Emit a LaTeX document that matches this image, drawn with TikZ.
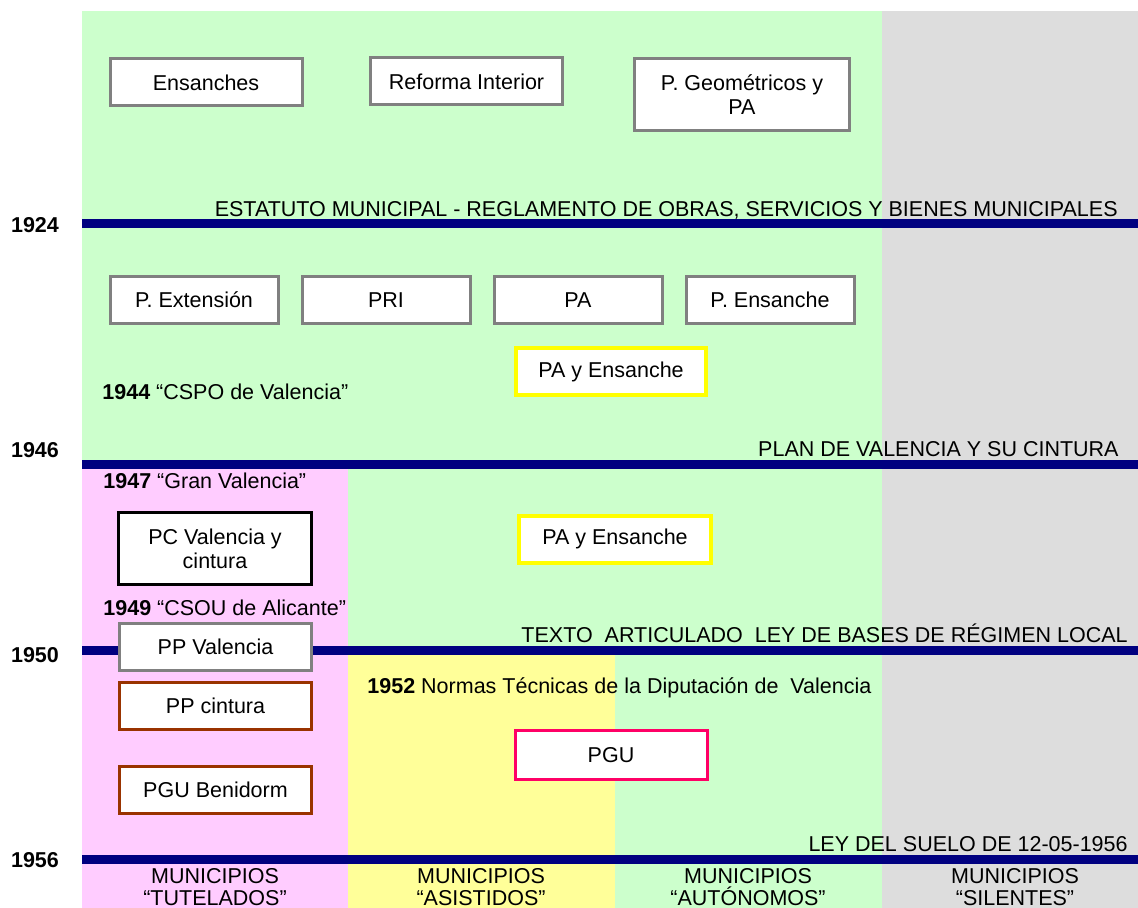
\documentclass[tikz,border=0pt]{standalone}
\usepackage{fontspec}
\setmainfont{Liberation Sans}
\usepackage{tikz}
\usetikzlibrary{positioning}
\usepackage{xcolor}

\definecolor{zonegreen}{HTML}{CCFFCC}
\definecolor{zonepink}{HTML}{FFCCFF}
\definecolor{zoneyellow}{HTML}{FFFF99}
\definecolor{zonegray}{HTML}{DDDDDD}
\definecolor{eranavy}{HTML}{000080}
\definecolor{boxgray}{HTML}{808080}
\definecolor{boxbrown}{HTML}{993300}
\definecolor{boxcrimson}{HTML}{FF0066}
\definecolor{boxyellow}{HTML}{FFFF00}

\begin{document}
\begin{tikzpicture}[
    x=0.5pt, y=-0.5pt,
    font=\fontsize{10.75}{12}\selectfont,
    plan/.style={rectangle, draw=boxgray, line width=1.5pt, fill=white, align=center,
        minimum width=96pt, minimum height=23.5pt, inner sep=1pt},
    plan_small/.style={plan, minimum width=84pt},
    plan_tall/.style={plan, minimum height=36pt},
    plan_yellow/.style={plan, draw=boxyellow, line width=2pt},
    era_line/.style={draw=eranavy, line width=4.5pt},
    year/.style={font=\fontsize{10.75}{12}\selectfont\bfseries},
    law/.style={anchor=base east, inner sep=0pt},
    note/.style={anchor=base west, inner sep=0pt},
    group/.style={align=center, font=\fontsize{10.75}{11}\selectfont}]

    \useasboundingbox (0,0) rectangle (1138,908);

    % Zones
    \fill[zonegray] (882,11) rectangle (1138,908);
    \fill[zonegreen] (82,11) rectangle (882,464);
    \fill[zonepink] (82,464) rectangle (348,908);
    \fill[zonegreen] (348,464) rectangle (882,650);
    \fill[zoneyellow] (348,650) rectangle (615,908);
    \fill[zonegreen] (615,650) rectangle (882,908);

    % Years and laws
    \node[year] (y1924) at (35,225) {1924};
    \coordinate (l1924a) at (82,223.5);
    \coordinate (l1924b) at (1138,223.5);
    \draw[era_line] (l1924a) -- (l1924b);
    \node[law] (estatuto) at (1118,217) {ESTATUTO MUNICIPAL - REGLAMENTO DE OBRAS, SERVICIOS Y BIENES MUNICIPALES};

    \node[year] (y1946) at (35,450) {1946};
    \coordinate (l1946a) at (82,464.5);
    \coordinate (l1946b) at (1138,464.5);
    \draw[era_line] (l1946a) -- (l1946b);
    \node[law] (plancin) at (1119,456) {PLAN DE VALENCIA Y SU CINTURA};

    \node[year] (y1950) at (35,655) {1950};
    \coordinate (l1950a) at (82,650);
    \coordinate (l1950b) at (1138,650);
    \draw[era_line] (l1950a) -- (l1950b);
    \node[law] (texto) at (1128,642) {TEXTO\ \ ARTICULADO\ \ LEY DE BASES DE RÉGIMEN LOCAL};

    \node[year] (y1956) at (35,860) {1956};
    \coordinate (l1956a) at (82,859);
    \coordinate (l1956b) at (1138,859);
    \draw[era_line] (l1956a) -- (l1956b);
    \node[law] (suelo) at (1128,851) {LEY DEL SUELO DE 12-05-1956};

    % Before 1924
    \node[plan] (ens) at (206,82.5) {Ensanches};
    \node[plan] (refint) at (466.5,81.5) {Reforma Interior};
    \node[plan_tall, minimum width=107.5pt] (pgeo) at (742,94.5) {P. Geométricos y\\PA};

    % 1924 - 1946
    \node[plan_small] (pext) at (194,300) {P. Extensión};
    \node[plan_small, right=10.5pt of pext] (pri) {PRI};
    \node[plan_small, right=10.5pt of pri] (pa) {PA};
    \node[plan_small, right=10.5pt of pa] (pens) {P. Ensanche};
    \node[plan_yellow, minimum width=95pt] (paens0) at (611,371.5) {PA y Ensanche};
    \node[note] (cspo) at (102,400) {\textbf{1944} “CSPO de Valencia”};

    % 1946 - 1950
    \node[note] (granval) at (103,488) {\textbf{1947} “Gran Valencia”};
    \node[plan_tall, draw=black, minimum width=96.5pt] (pcval) at (215,548.5) {PC Valencia y\\cintura};
    \node[plan_yellow] (paens1) at (615,539) {PA y Ensanche};
    \node[note] (csou) at (103,615) {\textbf{1949} “CSOU de Alicante”};

    % 1950 - 1956
    \node[plan] (ppval) at (215.5,647) {PP Valencia};
    \node[plan, draw=boxbrown, below=4.5pt of ppval] (ppcin) {PP cintura};
    \node[plan, draw=boxbrown, below=17pt of ppcin] (pgubeni) {PGU Benidorm};
    \node[note] (normas) at (367,693) {\textbf{1952} Normas Técnicas de la Diputación de\ \ Valencia};
    \node[plan, draw=boxcrimson, minimum height=24.5pt] (pgu) at (611,755) {PGU};

    % Groups of municipalities
    \node[group] (tutel) at (215,887) {MUNICIPIOS\\“TUTELADOS”};
    \node[group] (asist) at (481,887) {MUNICIPIOS\\“ASISTIDOS”};
    \node[group] (auton) at (748,887) {MUNICIPIOS\\“AUTÓNOMOS”};
    \node[group] (silent) at (1015,887) {MUNICIPIOS\\“SILENTES”};

\end{tikzpicture}
\end{document}
